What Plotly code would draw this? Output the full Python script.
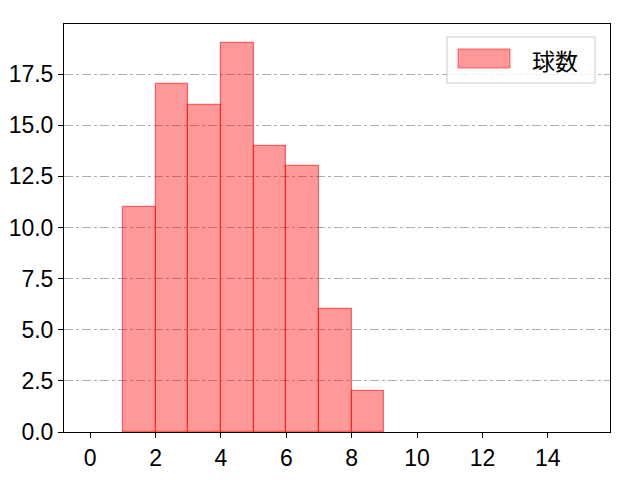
import plotly.graph_objects as go

# histogram data: left edge of each bin (width 1) and count
bin_left = [1, 2, 3, 4, 5, 6, 7, 8]
counts = [11, 17, 16, 19, 14, 13, 6, 2]
series_name = "球数"

x_ticks = [0, 2, 4, 6, 8, 10, 12, 14]
y_ticks = [0.0, 2.5, 5.0, 7.5, 10.0, 12.5, 15.0, 17.5]

FONT = "Liberation Sans, Noto Sans CJK JP"

fig = go.Figure()

fig.add_trace(go.Bar(
    x=bin_left,
    y=counts,
    width=1,
    offset=0,
    name=series_name,
    marker=dict(color="rgba(255,0,0,0.4)", line=dict(color="rgba(255,0,0,0.55)", width=1.2)),
    showlegend=False
))

# matplotlib style legend box
fig.add_shape(type="rect", xref="paper", yref="paper",
              x0=(447 - 64) / 546, x1=(595 - 64) / 546,
              y0=(432 - 83) / 408, y1=(432 - 37) / 408,
              line=dict(color="#cccccc", width=1), fillcolor="rgba(255,255,255,0.8)")
fig.add_shape(type="rect", xref="paper", yref="paper",
              x0=(458 - 64) / 546, x1=(510 - 64) / 546,
              y0=(432 - 68) / 408, y1=(432 - 49) / 408,
              line=dict(color="rgba(255,0,0,0.55)", width=1), fillcolor="rgba(255,0,0,0.4)")
fig.add_annotation(xref="paper", yref="paper",
                   x=(530 - 64) / 546, y=(432 - 60) / 408,
                   xanchor="left", yanchor="middle", showarrow=False,
                   text=series_name, font=dict(family="Noto Sans CJK JP", size=23, color="black"))

fig.update_layout(
    width=640,
    height=480,
    margin=dict(l=56, r=38, t=16, b=56),
    plot_bgcolor="white",
    paper_bgcolor="white",
    bargap=0,
    font=dict(family=FONT, size=23, color="black"),
    showlegend=False
)

fig.update_xaxes(
    range=[-0.8, 15.9],
    tickvals=x_ticks,
    ticktext=[str(v) for v in x_ticks],
    ticks="outside", ticklen=5, tickcolor="black",
    showgrid=False, zeroline=False, automargin=False,
    showline=True, linecolor="black", linewidth=1, mirror=True
)
fig.update_yaxes(
    range=[0, 19.95],
    tickvals=y_ticks,
    ticktext=[f"{v:.1f}" for v in y_ticks],
    ticks="outside", ticklen=5, tickcolor="black",
    showgrid=True, gridcolor="#b0b0b0", gridwidth=1, griddash="dashdot",
    zeroline=False, automargin=False,
    showline=True, linecolor="black", linewidth=1, mirror=True,
    layer="below traces"
)

fig.write_html("out.html")
